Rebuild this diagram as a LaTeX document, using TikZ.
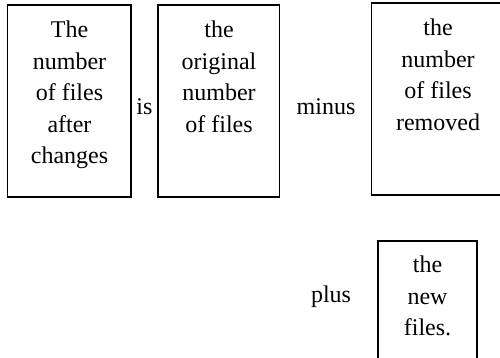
\documentclass[tikz,border=0pt]{standalone}
\usepackage{fontspec}
\setmainfont{Liberation Serif}
\begin{document}
\begin{tikzpicture}[x=1pt,y=1pt,
  box/.style={draw=black,line width=1.5pt},
  txt/.style={inner sep=0pt,align=center,anchor=base,font=\fontsize{24}{31.5}\selectfont}]
\useasboundingbox (0,0) rectangle (500,358);
\clip (0,0) rectangle (500,358);
\draw[box] (7.5,353) rectangle (131,161);
\draw[box] (158,353) rectangle (279.5,161);
\draw[box] (371.5,355) rectangle (510,163);
\draw[box] (378,117) rectangle (477,-10);
\node[txt] (t1) at (69.5,194) {The\\number\\of files\\after\\changes};
\node[txt] (t2) at (219,225.5) {the\\original\\number\\of files};
\node[txt] (t3) at (438,227.5) {the\\number\\of files\\removed};
\node[txt] (t4) at (427.5,22) {the\\new\\files.};
\node[txt] (is) at (144.5,243) {is};
\node[txt] (minus) at (326,243) {minus};
\node[txt] (plus) at (331,55) {plus};
\end{tikzpicture}
\end{document}
